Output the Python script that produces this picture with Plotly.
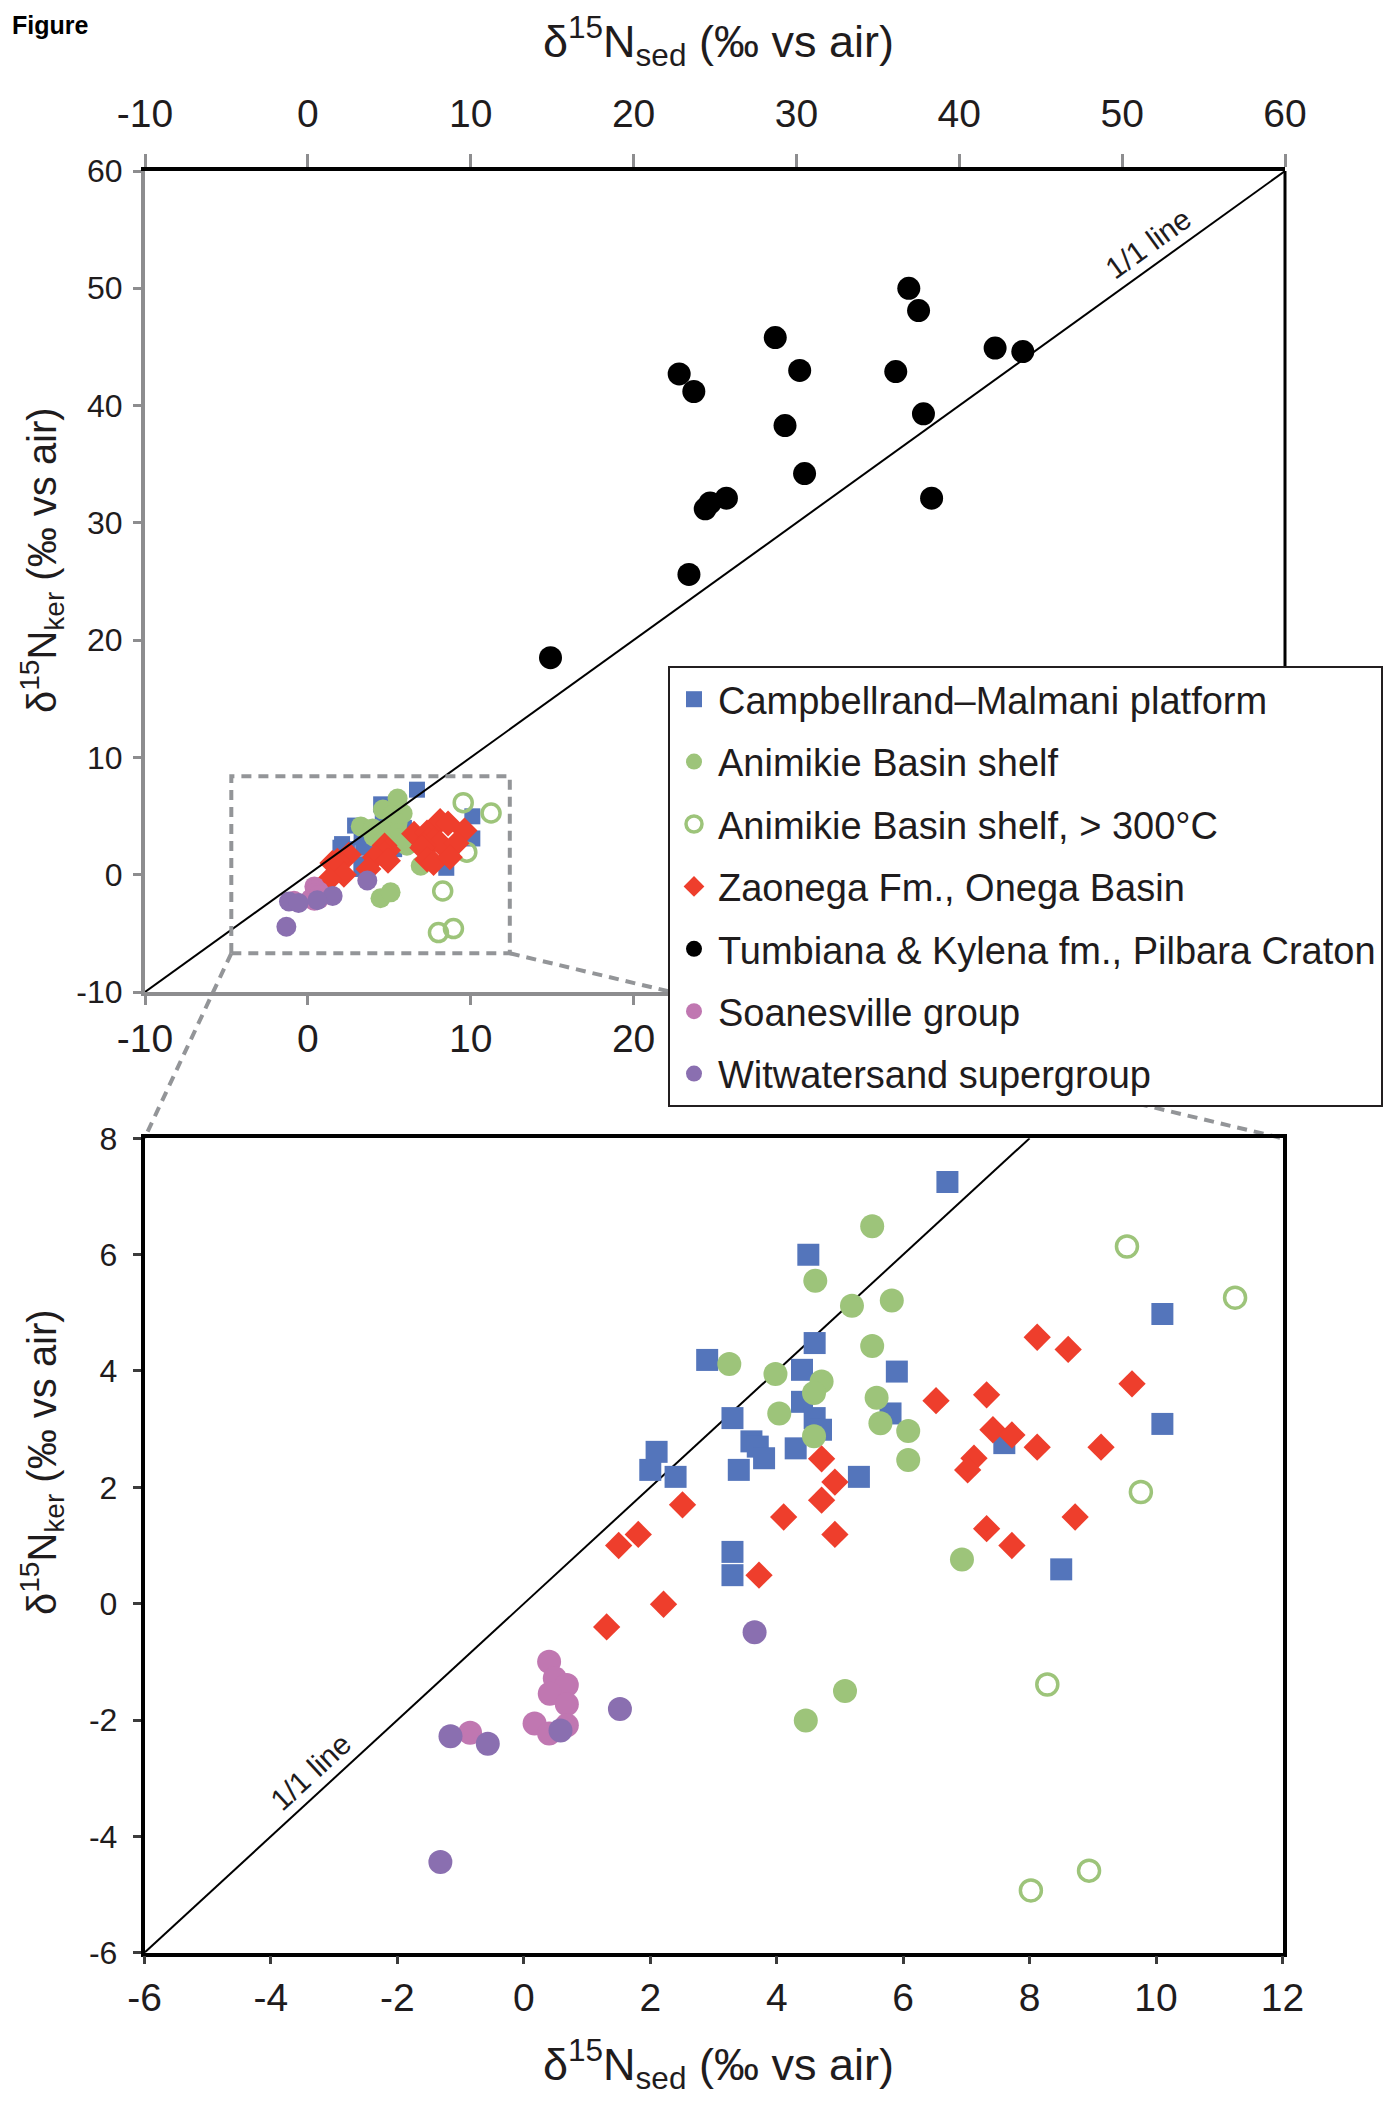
import math
import plotly.graph_objects as go

# ------------------------------------------------------------------ data
campbell_x = [6.7, 4.5, 10.1, 2.9, 4.6, 5.9, 4.4, 4.4, 4.6, 4.7, 5.8, 3.3, 3.6, 3.7, 3.8, 4.3, 3.4, 2.1, 2.0, 2.4,
              5.3, 7.6, 10.1, 3.3, 3.3, 8.5]
campbell_y = [7.25, 6.0, 4.98, 4.19, 4.48, 3.99, 4.02, 3.47, 3.19, 2.99, 3.27, 3.19, 2.79, 2.70, 2.50, 2.67, 2.30,
              2.61, 2.30, 2.18, 2.18, 2.76, 3.09, 0.89, 0.49, 0.59]

animikie_x = [5.51, 4.61, 5.19, 5.82, 5.51, 3.25, 3.98, 4.71, 4.59, 5.58, 4.04, 5.64, 6.08, 4.59, 6.08, 6.93, 4.46, 5.08]
animikie_y = [6.49, 5.55, 5.12, 5.21, 4.43, 4.12, 3.95, 3.82, 3.62, 3.54, 3.27, 3.10, 2.97, 2.88, 2.47, 0.76, -2.01, -1.50]

animikie_hot_x = [9.54, 9.76, 11.25, 8.28, 8.02, 8.94]
animikie_hot_y = [6.14, 1.92, 5.26, -1.39, -4.93, -4.59]

zaonega_x = [8.12, 8.61, 9.62, 6.52, 7.32, 7.42, 7.72, 8.12, 9.13, 7.12, 7.02, 4.71, 4.92, 4.71, 2.51, 4.11, 1.81,
             1.50, 4.92, 7.32, 7.72, 8.72, 3.72, 2.21, 1.31]
zaonega_y = [4.58, 4.37, 3.78, 3.49, 3.59, 2.99, 2.90, 2.69, 2.69, 2.50, 2.30, 2.49, 2.09, 1.78, 1.70, 1.49, 1.19,
             1.00, 1.19, 1.29, 1.00, 1.49, 0.49, -0.01, -0.40]

tumbiana_x = [36.9, 37.5, 28.7, 42.2, 43.9, 22.8, 30.2, 36.1, 23.7, 37.8, 29.3, 30.5, 25.7, 24.7, 24.4, 38.3, 23.4, 14.9]
tumbiana_y = [50.0, 48.1, 45.8, 44.9, 44.6, 42.7, 43.0, 42.9, 41.2, 39.3, 38.3, 34.2, 32.1, 31.7, 31.2, 32.1, 25.6, 18.5]

soanesville_x = [0.40, 0.49, 0.68, 0.41, 0.68, 0.17, 0.68, 0.40, -0.85]
soanesville_y = [-1.00, -1.28, -1.40, -1.55, -1.73, -2.06, -2.09, -2.23, -2.22]

witwatersrand_x = [3.65, 1.52, -1.16, -0.57, 0.58, -1.32]
witwatersrand_y = [-0.49, -1.81, -2.28, -2.41, -2.18, -4.44]

series_names = [
    "Campbellrand\u2013Malmani platform",
    "Animikie Basin shelf",
    "Animikie Basin shelf, > 300\u00b0C",
    "Zaonega Fm., Onega Basin",
    "Tumbiana & Kylena fm., Pilbara Craton",
    "Soanesville group",
    "Witwatersand supergroup",
]

top_range = [-10, 60]
top_ticks = [-10, 0, 10, 20, 30, 40, 50, 60]
bot_x_range = [-6, 12]
bot_y_range = [-6, 8]
bot_ticks_x = [-6, -4, -2, 0, 2, 4, 6, 8, 10, 12]
bot_ticks_y = [-6, -4, -2, 0, 2, 4, 6, 8]
zoom_box_x = [-4.7, 12.4]
zoom_box_y = [-6.7, 8.4]

# ------------------------------------------------------------------ styles
W, H = 1392, 2112
FONT = "Liberation Sans, Arial, sans-serif"
TXT = "#1f1c1d"
AX_GRAY = "#8d8d8f"
DASH_GRAY = "#939598"

TOP_X_DOM = [145 / W, 1285 / W]
TOP_Y_DOM = [1 - 992 / H, 1 - 171 / H]
BOT_X_DOM = [144.5 / W, 1282.5 / W]
BOT_Y_DOM = [1 - 1952.7 / H, 1 - 1138.3 / H]

styles = [
    dict(symbol="square", color="#5475bb", top=16, bot=22, open=False),
    dict(symbol="circle", color="#9dc47a", top=20, bot=24, open=False),
    dict(symbol="circle-open", color="#9dc47a", top=18, bot=21, open=True),
    dict(symbol="diamond", color="#ee3e2c", top=20, bot=21, open=False),
    dict(symbol="circle", color="#000000", top=23, bot=23, open=False),
    dict(symbol="circle", color="#c077b1", top=20, bot=24, open=False),
    dict(symbol="circle", color="#8a6fb0", top=20, bot=24, open=False),
]
data_xy = [
    (campbell_x, campbell_y),
    (animikie_x, animikie_y),
    (animikie_hot_x, animikie_hot_y),
    (zaonega_x, zaonega_y),
    (tumbiana_x, tumbiana_y),
    (soanesville_x, soanesville_y),
    (witwatersrand_x, witwatersrand_y),
]

fig = go.Figure()

# 1/1 lines (drawn first, beneath markers)
fig.add_trace(go.Scatter(x=top_range, y=top_range, mode="lines", line=dict(color="black", width=2),
                         xaxis="x3", yaxis="y", showlegend=False, hoverinfo="skip"))
fig.add_trace(go.Scatter(x=[bot_y_range[0], bot_y_range[1]], y=[bot_y_range[0], bot_y_range[1]], mode="lines",
                         line=dict(color="black", width=2), xaxis="x2", yaxis="y2",
                         showlegend=False, hoverinfo="skip"))

for i, (name, st, (xs, ys)) in enumerate(zip(series_names, styles, data_xy)):
    for which in ("top", "bot"):
        size = st[which]
        if st["open"]:
            marker = dict(symbol=st["symbol"], size=size, color=st["color"], line=dict(color=st["color"], width=3.5))
        else:
            marker = dict(symbol=st["symbol"], size=size, color=st["color"], line=dict(width=0))
        fig.add_trace(go.Scatter(
            x=xs, y=ys, mode="markers", name=name, marker=marker,
            legendgroup=f"g{i}", showlegend=(which == "bot"),
            xaxis="x" if which == "top" else "x2",
            yaxis="y" if which == "top" else "y2",
        ))

tick_font_x = dict(family=FONT, size=39, color=TXT)
tick_font_y = dict(family=FONT, size=32, color=TXT)


def labels(vals):
    return [str(v) for v in vals]  # plain hyphen minus, as in the original


common = dict(showgrid=False, zeroline=False, showline=True, ticks="outside", automargin=False, tickmode="array")

fig.update_layout(
    width=W, height=H,
    margin=dict(l=0, r=0, t=0, b=0, autoexpand=False),
    paper_bgcolor="white", plot_bgcolor="white",
    font=dict(family=FONT, color=TXT),
    xaxis=dict(domain=TOP_X_DOM, range=top_range, anchor="y", tickvals=top_ticks, ticktext=labels(top_ticks),
               linecolor=AX_GRAY, linewidth=4, ticklen=9, tickwidth=3, tickcolor=AX_GRAY, tickfont=tick_font_x,
               ticklabelstandoff=0, **common),
    xaxis3=dict(range=top_range, overlaying="x", side="top", anchor="y", tickvals=top_ticks,
                ticktext=labels(top_ticks), linecolor="black", linewidth=3.5,
                ticklen=13, tickwidth=3, tickcolor=AX_GRAY, tickfont=tick_font_x,
                ticklabelstandoff=12, **common),
    yaxis=dict(domain=TOP_Y_DOM, range=top_range, anchor="x", tickvals=top_ticks, ticktext=labels(top_ticks),
               linecolor=AX_GRAY, linewidth=4, ticklen=8, tickwidth=3, tickcolor=AX_GRAY, tickfont=tick_font_y,
               ticklabelstandoff=4, **common),
    xaxis2=dict(domain=BOT_X_DOM, range=bot_x_range, anchor="y2", tickvals=bot_ticks_x, ticktext=labels(bot_ticks_x),
                mirror=True, linecolor="black", linewidth=3.5,
                ticklen=8, tickwidth=3, tickcolor="#3c3c3c", tickfont=tick_font_x,
                ticklabelstandoff=0, **common),
    yaxis2=dict(domain=BOT_Y_DOM, range=bot_y_range, anchor="x2", tickvals=bot_ticks_y, ticktext=labels(bot_ticks_y),
                mirror=True, linecolor="black", linewidth=3.5,
                ticklen=8, tickwidth=3, tickcolor="#3c3c3c", tickfont=tick_font_y,
                ticklabelstandoff=9, **common),
    legend=dict(x=668 / W, y=1 - 666 / H, xanchor="left", yanchor="top", bgcolor="white",
                bordercolor="#231f20", borderwidth=2, font=dict(family=FONT, size=38, color=TXT),
                traceorder="grouped", tracegroupgap=10, itemsizing="trace", itemwidth=38),
)


# ------------------------------------------------------------------ helpers for paper coordinates
def top_to_paper(xv, yv):
    px = TOP_X_DOM[0] + (xv - top_range[0]) / (top_range[1] - top_range[0]) * (TOP_X_DOM[1] - TOP_X_DOM[0])
    py = TOP_Y_DOM[0] + (yv - top_range[0]) / (top_range[1] - top_range[0]) * (TOP_Y_DOM[1] - TOP_Y_DOM[0])
    return px, py


shapes = []
# right black frame of top plot
shapes.append(dict(type="line", xref="paper", yref="paper", x0=TOP_X_DOM[1], x1=TOP_X_DOM[1],
                   y0=TOP_Y_DOM[0], y1=TOP_Y_DOM[1], line=dict(color="black", width=3)))
# dashed zoom rectangle
shapes.append(dict(type="rect", xref="x", yref="y", x0=zoom_box_x[0], x1=zoom_box_x[1],
                   y0=zoom_box_y[0], y1=zoom_box_y[1], line=dict(color=DASH_GRAY, width=4, dash="10px,7px")))
# connector lines
p0 = top_to_paper(zoom_box_x[0], zoom_box_y[0])
p1 = top_to_paper(zoom_box_x[1], zoom_box_y[0])
shapes.append(dict(type="line", xref="paper", yref="paper", x0=p0[0], y0=p0[1], x1=BOT_X_DOM[0], y1=BOT_Y_DOM[1],
                   line=dict(color=DASH_GRAY, width=4, dash="10px,7px"), layer="below"))
shapes.append(dict(type="line", xref="paper", yref="paper", x0=p1[0], y0=p1[1], x1=BOT_X_DOM[1], y1=BOT_Y_DOM[1],
                   line=dict(color=DASH_GRAY, width=4, dash="10px,7px"), layer="below"))
fig.update_layout(shapes=shapes)

# angles of 1/1 lines on screen
top_ang = -math.degrees(math.atan(((TOP_Y_DOM[1] - TOP_Y_DOM[0]) * H) / ((TOP_X_DOM[1] - TOP_X_DOM[0]) * W)))
bot_ang = -math.degrees(math.atan(((BOT_Y_DOM[1] - BOT_Y_DOM[0]) * H / 14) / ((BOT_X_DOM[1] - BOT_X_DOM[0]) * W / 18)))

title_x = "\u03b4<sup>15</sup>N<sub>sed</sub> (\u2030 vs air)"
title_y = "\u03b4<sup>15</sup>N<sub>ker</sub> (\u2030 vs air)"

annotations = [
    dict(text="<b>Figure</b>", xref="paper", yref="paper", x=10 / W, y=1 - 9 / H, xanchor="left", yanchor="top",
         showarrow=False, font=dict(family=FONT, size=25, color="black")),
    dict(text=title_x, xref="paper", yref="paper", x=718 / W, y=1 - 41 / H, xanchor="center", yanchor="middle",
         showarrow=False, font=dict(family=FONT, size=45, color=TXT)),
    dict(text=title_x, xref="paper", yref="paper", x=718 / W, y=1 - 2064 / H, xanchor="center", yanchor="middle",
         showarrow=False, font=dict(family=FONT, size=45, color=TXT)),
    dict(text=title_y, xref="paper", yref="paper", x=42 / W, y=1 - 560 / H, xanchor="center", yanchor="middle",
         textangle=-90, showarrow=False, font=dict(family=FONT, size=40, color=TXT)),
    dict(text=title_y, xref="paper", yref="paper", x=42 / W, y=1 - 1462 / H, xanchor="center", yanchor="middle",
         textangle=-90, showarrow=False, font=dict(family=FONT, size=40, color=TXT)),
    dict(text="1/1 line", xref="x", yref="y", x=51.6, y=53.8, showarrow=False, textangle=top_ang,
         font=dict(family=FONT, size=30, color=TXT)),
    dict(text="1/1 line", xref="x2", yref="y2", x=-3.37, y=-2.88, showarrow=False, textangle=bot_ang,
         font=dict(family=FONT, size=30, color=TXT)),
]
fig.update_layout(annotations=annotations)

fig.write_html("out.html")
